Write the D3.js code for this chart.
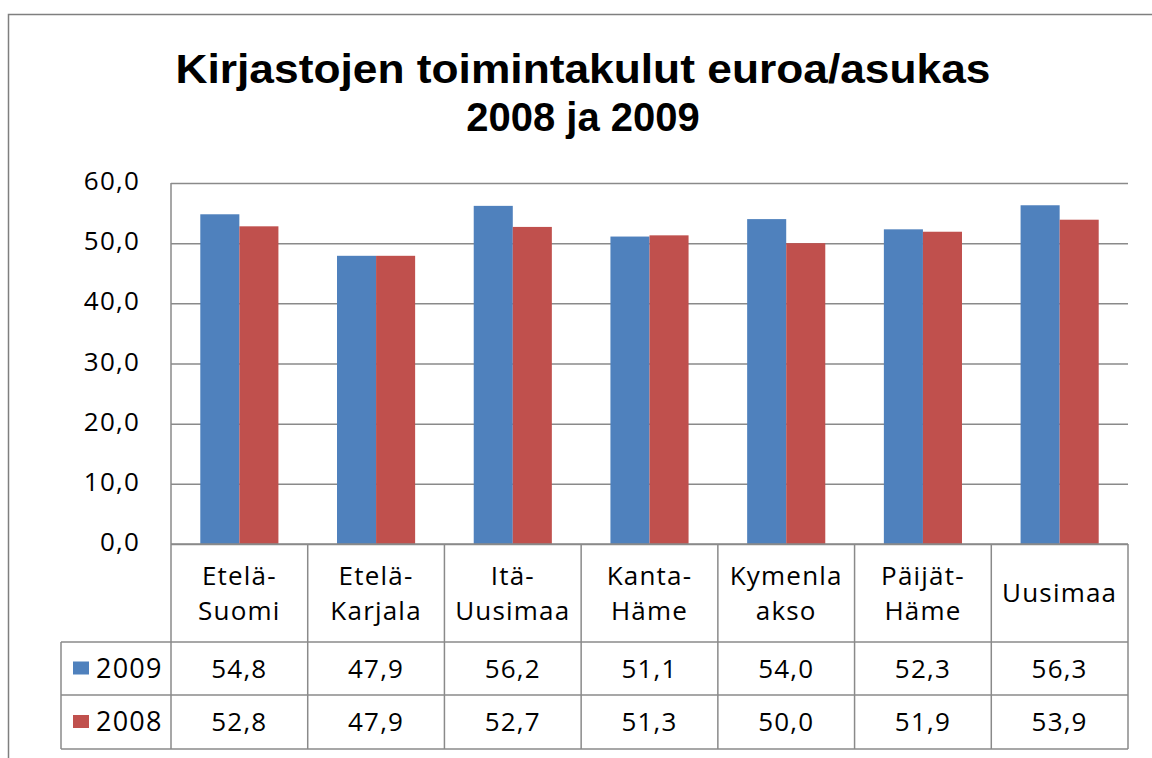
<!DOCTYPE html>
<html>
<head>
<meta charset="utf-8">
<script src="https://cdn.jsdelivr.net/npm/d3@7"></script>
<style>
  html, body { margin: 0; padding: 0; background: #fff; }
  svg { display: block; }
  .title { font-family: "Liberation Sans", Arial, sans-serif; font-weight: bold; fill: #000; }
  .lbl { font-family: "Open Sans", sans-serif; fill: #000; letter-spacing: 1.2px; }
</style>
</head>
<body>
<svg id="chart" width="1152" height="758"></svg>
<script>
// Chart data
const categories = ['Etelä-\nSuomi', 'Etelä-\nKarjala', 'Itä-\nUusimaa', 'Kanta-\nHäme', 'Kymenla\nakso', 'Päijät-\nHäme', 'Uusimaa'];
const seriesNames = ['2009', '2008'];
const values2009 = [54.8, 47.9, 56.2, 51.1, 54.0, 52.3, 56.3];
const values2008 = [52.8, 47.9, 52.7, 51.3, 50.0, 51.9, 53.9];
const yTicks = [0, 10, 20, 30, 40, 50, 60];
const titleLines = ['Kirjastojen toimintakulut euroa/asukas', '2008 ja 2009'];

const colors = { '2009': '#4f81bd', '2008': '#c0504d' };
const seriesValues = { '2009': values2009, '2008': values2008 };

const svg = d3.select('#chart');

// Plot area and data table geometry
const plot = { left: 171, right: 1128, top: 183, bottom: 544 };
const table = { left: 61, catBottom: 642, row1Bottom: 695, row2Bottom: 749 };
const gridColor = '#8a8a8a';

const fmt = v => d3.format('.1f')(v).replace('.', ',');

// Outer chart frame
svg.append('rect')
  .attr('x', 8.5).attr('y', 14.5)
  .attr('width', 1200).attr('height', 800)
  .attr('fill', 'none')
  .attr('stroke', '#7f7f7f')
  .attr('stroke-width', 1.5);

// Title
svg.append('text')
  .attr('class', 'title')
  .attr('x', 583).attr('y', 83)
  .attr('text-anchor', 'middle')
  .attr('font-size', 40)
  .attr('textLength', 815)
  .attr('lengthAdjust', 'spacingAndGlyphs')
  .text(titleLines[0]);

svg.append('text')
  .attr('class', 'title')
  .attr('x', 583).attr('y', 131)
  .attr('text-anchor', 'middle')
  .attr('font-size', 40)
  .text(titleLines[1]);

// Scales
const x = d3.scaleBand()
  .domain(categories)
  .range([plot.left, plot.right])
  .padding(0);

const x1 = d3.scaleBand()
  .domain(seriesNames)
  .range([0, x.bandwidth()])
  .paddingInner(0)
  .paddingOuter(0.75);

const y = d3.scaleLinear()
  .domain([0, 60])
  .range([plot.bottom, plot.top]);

// Gridlines
const yAxis = d3.axisLeft(y)
  .tickValues(yTicks)
  .tickSize(-(plot.right - plot.left))
  .tickFormat('');

const grid = svg.append('g')
  .attr('transform', `translate(${plot.left},0)`)
  .call(yAxis);
grid.select('.domain').remove();
grid.selectAll('.tick line')
  .attr('stroke', gridColor)
  .attr('stroke-width', 1.5);

// Y tick labels
svg.append('g')
  .selectAll('text')
  .data(yTicks)
  .join('text')
  .attr('class', 'lbl')
  .attr('x', 140)
  .attr('y', d => y(d) - 2)
  .attr('dy', '0.35em')
  .attr('text-anchor', 'end')
  .attr('font-size', 26)
  .text(d => fmt(d));

// Bars
const groups = svg.append('g')
  .selectAll('g')
  .data(categories)
  .join('g')
  .attr('transform', d => `translate(${x(d)},0)`);

groups.selectAll('rect')
  .data((d, i) => seriesNames.map(s => ({ key: s, value: seriesValues[s][i] })))
  .join('rect')
  .attr('x', d => x1(d.key))
  .attr('y', d => y(d.value))
  .attr('width', x1.bandwidth())
  .attr('height', d => y(0) - y(d.value))
  .attr('fill', d => colors[d.key]);

// Data table lines
const lines = svg.append('g')
  .attr('stroke', gridColor)
  .attr('stroke-width', 1.5);

// axis line and vertical cell borders
lines.append('line')
  .attr('x1', plot.left).attr('x2', plot.left)
  .attr('y1', plot.top).attr('y2', table.row2Bottom);
categories.forEach(c => {
  lines.append('line')
    .attr('x1', x(c) + x.bandwidth()).attr('x2', x(c) + x.bandwidth())
    .attr('y1', plot.bottom).attr('y2', table.row2Bottom);
});
lines.append('line')
  .attr('x1', table.left).attr('x2', table.left)
  .attr('y1', table.catBottom).attr('y2', table.row2Bottom);

// horizontal borders
lines.append('line')
  .attr('x1', plot.left).attr('x2', plot.right)
  .attr('y1', plot.bottom).attr('y2', plot.bottom);
[table.catBottom, table.row1Bottom, table.row2Bottom].forEach(yy => {
  lines.append('line')
    .attr('x1', table.left).attr('x2', plot.right)
    .attr('y1', yy).attr('y2', yy);
});

// Category labels
const catLabels = svg.append('g')
  .selectAll('text')
  .data(categories)
  .join('text')
  .attr('class', 'lbl')
  .attr('font-size', 26)
  .attr('text-anchor', 'middle');

catLabels.each(function (d) {
  const parts = d.split('\n');
  const cx = x(d) + x.bandwidth() / 2;
  const mid = (plot.bottom + table.catBottom) / 2;
  const lineH = 35;
  const first = mid - (parts.length - 1) * lineH / 2;
  d3.select(this).selectAll('tspan')
    .data(parts)
    .join('tspan')
    .attr('x', cx)
    .attr('y', (p, i) => first + i * lineH)
    .attr('dy', '0.35em')
    .text(p => p);
});

// Value rows with legend keys
const rowMids = {
  '2009': (table.catBottom + table.row1Bottom) / 2,
  '2008': (table.row1Bottom + table.row2Bottom) / 2
};

seriesNames.forEach(s => {
  const ym = rowMids[s];
  svg.append('rect')
    .attr('x', 73).attr('y', ym - 7)
    .attr('width', 16).attr('height', 13)
    .attr('fill', colors[s]);
  svg.append('text')
    .attr('class', 'lbl')
    .attr('x', 96).attr('y', ym)
    .attr('dy', '0.35em')
    .attr('font-size', 27)
    .text(s);
  svg.append('g')
    .selectAll('text')
    .data(categories)
    .join('text')
    .attr('class', 'lbl')
    .attr('x', d => x(d) + x.bandwidth() / 2)
    .attr('y', ym)
    .attr('dy', '0.35em')
    .attr('text-anchor', 'middle')
    .attr('font-size', 26)
    .text((d, i) => fmt(seriesValues[s][i]));
});
</script>
</body>
</html>
